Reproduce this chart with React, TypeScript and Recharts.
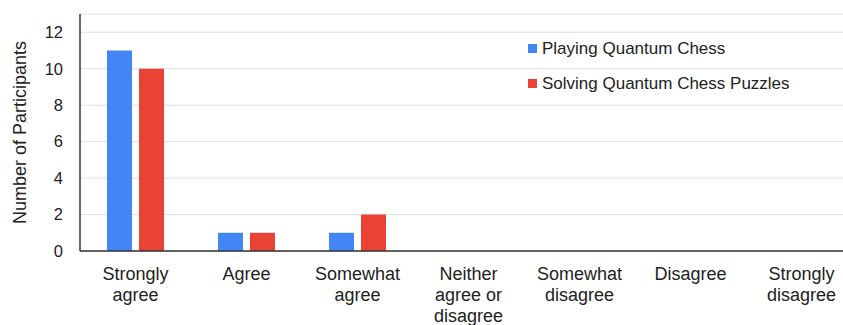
import { BarChart, Bar, XAxis, YAxis, CartesianGrid } from 'recharts';

const categories = [
  'Strongly agree',
  'Agree',
  'Somewhat agree',
  'Neither agree or disagree',
  'Somewhat disagree',
  'Disagree',
  'Strongly disagree',
];

const tickLines = [
  ['Strongly', 'agree'],
  ['Agree'],
  ['Somewhat', 'agree'],
  ['Neither', 'agree or', 'disagree'],
  ['Somewhat', 'disagree'],
  ['Disagree'],
  ['Strongly', 'disagree'],
];

const playing = [11, 1, 1, 0, 0, 0, 0];
const puzzles = [10, 1, 2, 0, 0, 0, 0];
const yTicks = [0, 2, 4, 6, 8, 10, 12];

const series = [
  { key: 'playing', name: 'Playing Quantum Chess', color: '#4285f4' },
  { key: 'puzzles', name: 'Solving Quantum Chess Puzzles', color: '#ea4335' },
];

const data = categories.map((c, i) => ({
  category: c,
  playing: playing[i],
  puzzles: puzzles[i],
}));

const FONT = '"Liberation Sans", Arial, sans-serif';

function CategoryTick({ x, y, payload }: any) {
  const idx = categories.indexOf(payload.value);
  const lines = tickLines[idx] || [payload.value];
  return (
    <text x={x} y={y} textAnchor="middle" fontSize={18} fontFamily={FONT} fill="#222">
      {lines.map((l, i) => (
        <tspan key={i} x={x} y={y + 29 + i * 21}>
          {l}
        </tspan>
      ))}
    </text>
  );
}

function LegendBox() {
  return (
    <div style={{ position: 'absolute', left: 528, top: 31, fontFamily: FONT, fontSize: 17, color: '#222' }}>
      {series.map((s) => (
        <div key={s.key} style={{ display: 'flex', alignItems: 'center', height: 35, whiteSpace: 'nowrap' }}>
          <span style={{ width: 9, height: 9, background: s.color, marginRight: 5, display: 'inline-block' }} />
          <span>{s.name}</span>
        </div>
      ))}
    </div>
  );
}

export default function App() {
  return (
    <div style={{ position: 'absolute', left: 0, top: 0, width: 843, height: 325, overflow: 'hidden', background: '#fff' }}>
      <BarChart
        width={857}
        height={325}
        data={data}
        margin={{ top: 14, right: 0, bottom: 0, left: 0 }}
        barSize={25}
        barGap={7}
      >
        <CartesianGrid vertical={false} stroke="#e0e0e0" />
        <XAxis
          dataKey="category"
          interval={0}
          tickLine={false}
          tickSize={0}
          tickMargin={0}
          axisLine={{ stroke: '#333', strokeWidth: 1.5 }}
          tick={<CategoryTick />}
          height={74}
        />
        <XAxis xAxisId="top" dataKey="category" orientation="top" tick={false} tickLine={false} height={0} axisLine={{ stroke: '#333', strokeWidth: 1.5 }} />
        <YAxis
          domain={[0, 13]}
          ticks={yTicks}
          width={80}
          tickLine={false}
          tickSize={0}
          tickMargin={17}
          axisLine={{ stroke: '#333', strokeWidth: 1.5 }}
          tick={{ fontSize: 16.5, fontFamily: FONT, fill: '#222' }}
          label={({ viewBox }: any) => (
            <text
              x={20}
              y={viewBox.y + viewBox.height / 2}
              transform={`rotate(-90, 20, ${viewBox.y + viewBox.height / 2})`}
              textAnchor="middle"
              dominantBaseline="central"
              fontSize={18}
              fontFamily={FONT}
              fill="#222"
            >
              Number of Participants
            </text>
          )}
        />
        {series.map((s) => (
          <Bar key={s.key} dataKey={s.key} name={s.name} fill={s.color} isAnimationActive={false} />
        ))}
      </BarChart>
      <LegendBox />
    </div>
  );
}
